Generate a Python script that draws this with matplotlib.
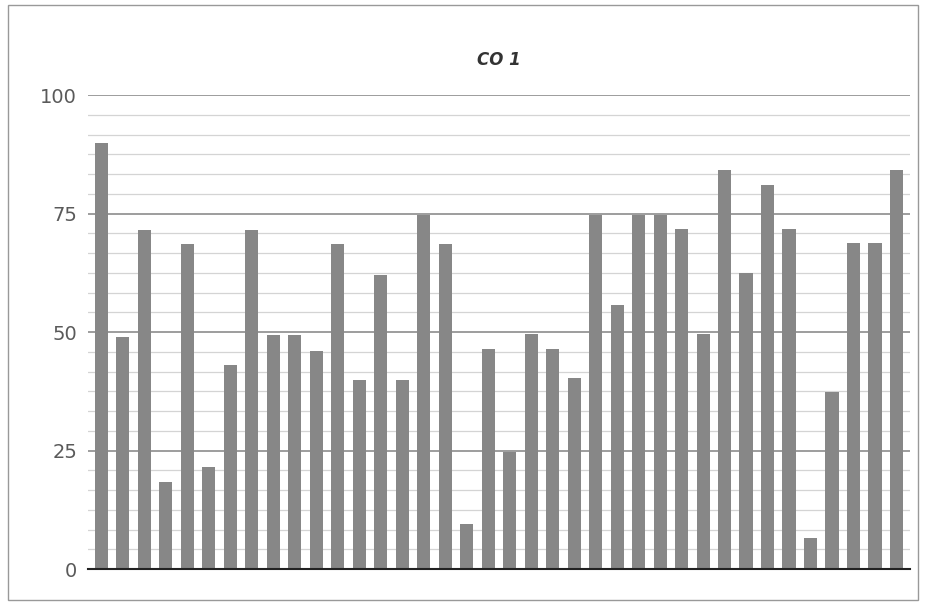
import matplotlib
matplotlib.use('Agg')
import matplotlib.pyplot as plt
from matplotlib.ticker import AutoMinorLocator
from matplotlib.patches import Rectangle

# bar values, left to right
values = [90, 49, 71.5, 18.3, 68.5, 21.5, 43, 71.5, 49.4, 49.4,
          46, 68.5, 40, 62, 40, 74.7, 68.5, 9.5, 46.4, 24.7,
          49.6, 46.4, 40.3, 74.7, 55.7, 74.7, 74.7, 71.7, 49.6, 84.2,
          62.4, 81, 71.7, 6.5, 37.4, 68.8, 68.8, 84.2]
positions = list(range(len(values)))
yticks = [0, 25, 50, 75, 100]
title = 'CO 1'

fig = plt.figure(figsize=(9.3, 6.1), dpi=100)
ax = fig.add_axes([0.095, 0.067, 0.883, 0.777])

ax.bar(positions, values, width=0.62, color='#878787', zorder=3)

ax.set_xlim(-0.6, len(values) - 0.4)
ax.set_ylim(0, 100)
ax.set_yticks(yticks)
ax.yaxis.set_minor_locator(AutoMinorLocator(6))
ax.set_xticks([])

ax.grid(axis='y', which='major', color='#8c8c8c', linewidth=1.2, zorder=0)
ax.grid(axis='y', which='minor', color='#d4d4d4', linewidth=0.9, zorder=0)
ax.tick_params(axis='y', which='both', length=0, labelsize=14,
               labelcolor='#5a5a5a', pad=8)

for s in ['top', 'right', 'left']:
    ax.spines[s].set_visible(False)
ax.spines['bottom'].set_color('#222222')
ax.spines['bottom'].set_linewidth(1.5)
ax.spines['bottom'].set_zorder(4)

ax.set_title(title, fontsize=12, fontweight='bold', fontstyle='italic',
             color='#333333', pad=22)

# outer chart border
fig.patches.append(Rectangle((0.009, 0.016), 0.978, 0.975, transform=fig.transFigure,
                             fill=False, edgecolor='#999999', linewidth=1.0))

fig.savefig('out.png', dpi=100, facecolor='white')
